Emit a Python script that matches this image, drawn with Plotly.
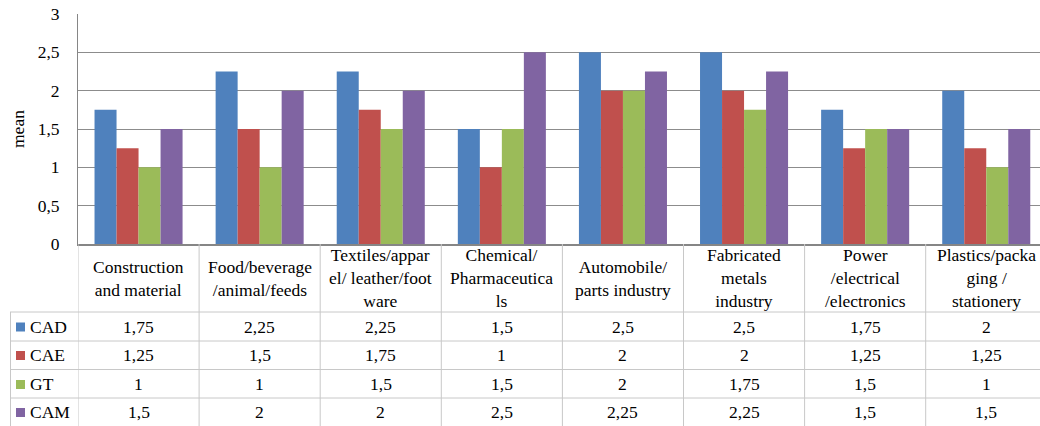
import plotly.graph_objects as go

categories = ["Construction and material", "Food/beverage/animal/feeds",
              "Textiles/apparel/ leather/footware", "Chemical/Pharmaceuticals",
              "Automobile/parts industry", "Fabricated metals industry",
              "Power/electrical/electronics", "Plastics/packaging / stationery"]
header_labels = ["Construction<br>and material", "Food/beverage<br>/animal/feeds",
                 "Textiles/appar<br>el/ leather/foot<br>ware", "Chemical/<br>Pharmaceutica<br>ls",
                 "Automobile/<br>parts industry", "Fabricated<br>metals<br>industry",
                 "Power<br>/electrical<br>/electronics", "Plastics/packa<br>ging /<br>stationery"]
series_names = ["CAD", "CAE", "GT", "CAM"]
CAD = [1.75, 2.25, 2.25, 1.5, 2.5, 2.5, 1.75, 2]
CAE = [1.25, 1.5, 1.75, 1, 2, 2, 1.25, 1.25]
GT = [1, 1, 1.5, 1.5, 2, 1.75, 1.5, 1]
CAM = [1.5, 2, 2, 2.5, 2.25, 2.25, 1.5, 1.5]
y_ticks = [0, 0.5, 1, 1.5, 2, 2.5, 3]

colors = ["#4F81BD", "#C0504D", "#9BBB59", "#8064A2"]
series = [CAD, CAE, GT, CAM]

W, H = 1040, 426
FONT = "Liberation Serif"
FS = 17.5

def px(x):
    return x / W

def py(y):
    return 1 - y / H

fig = go.Figure()
for name, vals, col in zip(series_names, series, colors):
    fig.add_trace(go.Bar(x=categories, y=vals, name=name, marker_color=col,
                         marker_line_width=0, showlegend=False))

def fmt(v):
    s = ("%g" % v)
    return s.replace(".", ",")

shapes = []
annotations = []
table_line = "#C8C8C8"
for yy in [312, 341, 369.5, 398]:
    shapes.append(dict(type="line", xref="paper", yref="paper", x0=px(10), x1=1,
                       y0=py(yy), y1=py(yy), line=dict(color=table_line, width=1)))
shapes.append(dict(type="line", xref="paper", yref="paper", x0=px(10.5), x1=px(10.5),
                   y0=py(312), y1=0, line=dict(color=table_line, width=1)))
for i in range(len(categories)):
    shapes.append(dict(type="line", xref="x", yref="paper", x0=i - 0.5, x1=i - 0.5,
                       y0=py(244), y1=0, line=dict(color=table_line, width=1)))

row_centers = [326.5, 355, 384, 412]
for name, vals, col, yc in zip(series_names, series, colors, row_centers):
    shapes.append(dict(type="rect", xref="paper", yref="paper", x0=px(16), x1=px(25),
                       y0=py(yc + 5), y1=py(yc - 4), fillcolor=col, line=dict(width=0)))
    annotations.append(dict(x=px(28), y=py(yc), xref="paper", yref="paper", text=name,
                            showarrow=False, xanchor="left", yanchor="middle",
                            font=dict(family=FONT, size=FS, color="black")))
    for c, v in zip(categories, vals):
        annotations.append(dict(x=c, y=py(yc), xref="x", yref="paper", text=fmt(v),
                                showarrow=False, xanchor="center", yanchor="middle",
                                font=dict(family=FONT, size=FS, color="black")))

for c, lab in zip(categories, header_labels):
    annotations.append(dict(x=c, y=py(278), xref="x", yref="paper", text=lab,
                            showarrow=False, xanchor="center", yanchor="middle",
                            font=dict(family=FONT, size=FS, color="black")))

annotations.append(dict(x=px(18), y=py(129), xref="paper", yref="paper", text="mean",
                        textangle=-90, showarrow=False, xanchor="center", yanchor="middle",
                        font=dict(family=FONT, size=FS, color="black")))

n_vis = (W - 78) / 121.1
fig.update_layout(
    width=W, height=H,
    margin=dict(l=0, r=0, t=0, b=0, autoexpand=False),
    paper_bgcolor="white", plot_bgcolor="white",
    barmode="group", bargap=0.273, bargroupgap=0,
    separators=", ",
    shapes=shapes, annotations=annotations,
    xaxis=dict(domain=[px(78), 1], range=[-0.5, -0.5 + n_vis], showticklabels=False,
               showgrid=False, showline=True, linecolor="#868686", linewidth=2,
               ticks="", zeroline=False, automargin=False),
    yaxis=dict(domain=[py(244), py(14)], range=[0, 3], tickvals=y_ticks,
               ticktext=[fmt(v) for v in y_ticks],
               showgrid=True, gridcolor="#8C8C8C", gridwidth=1,
               showline=True, linecolor="#868686", linewidth=1,
               zeroline=False, ticks="", ticklabelstandoff=14, automargin=False,
               tickfont=dict(family=FONT, size=FS, color="black")),
    font=dict(family=FONT, size=FS, color="black"),
)

fig.write_html("out.html", config={"displayModeBar": False},
               post_script="document.body.style.margin='0px';document.body.style.overflow='hidden';")
